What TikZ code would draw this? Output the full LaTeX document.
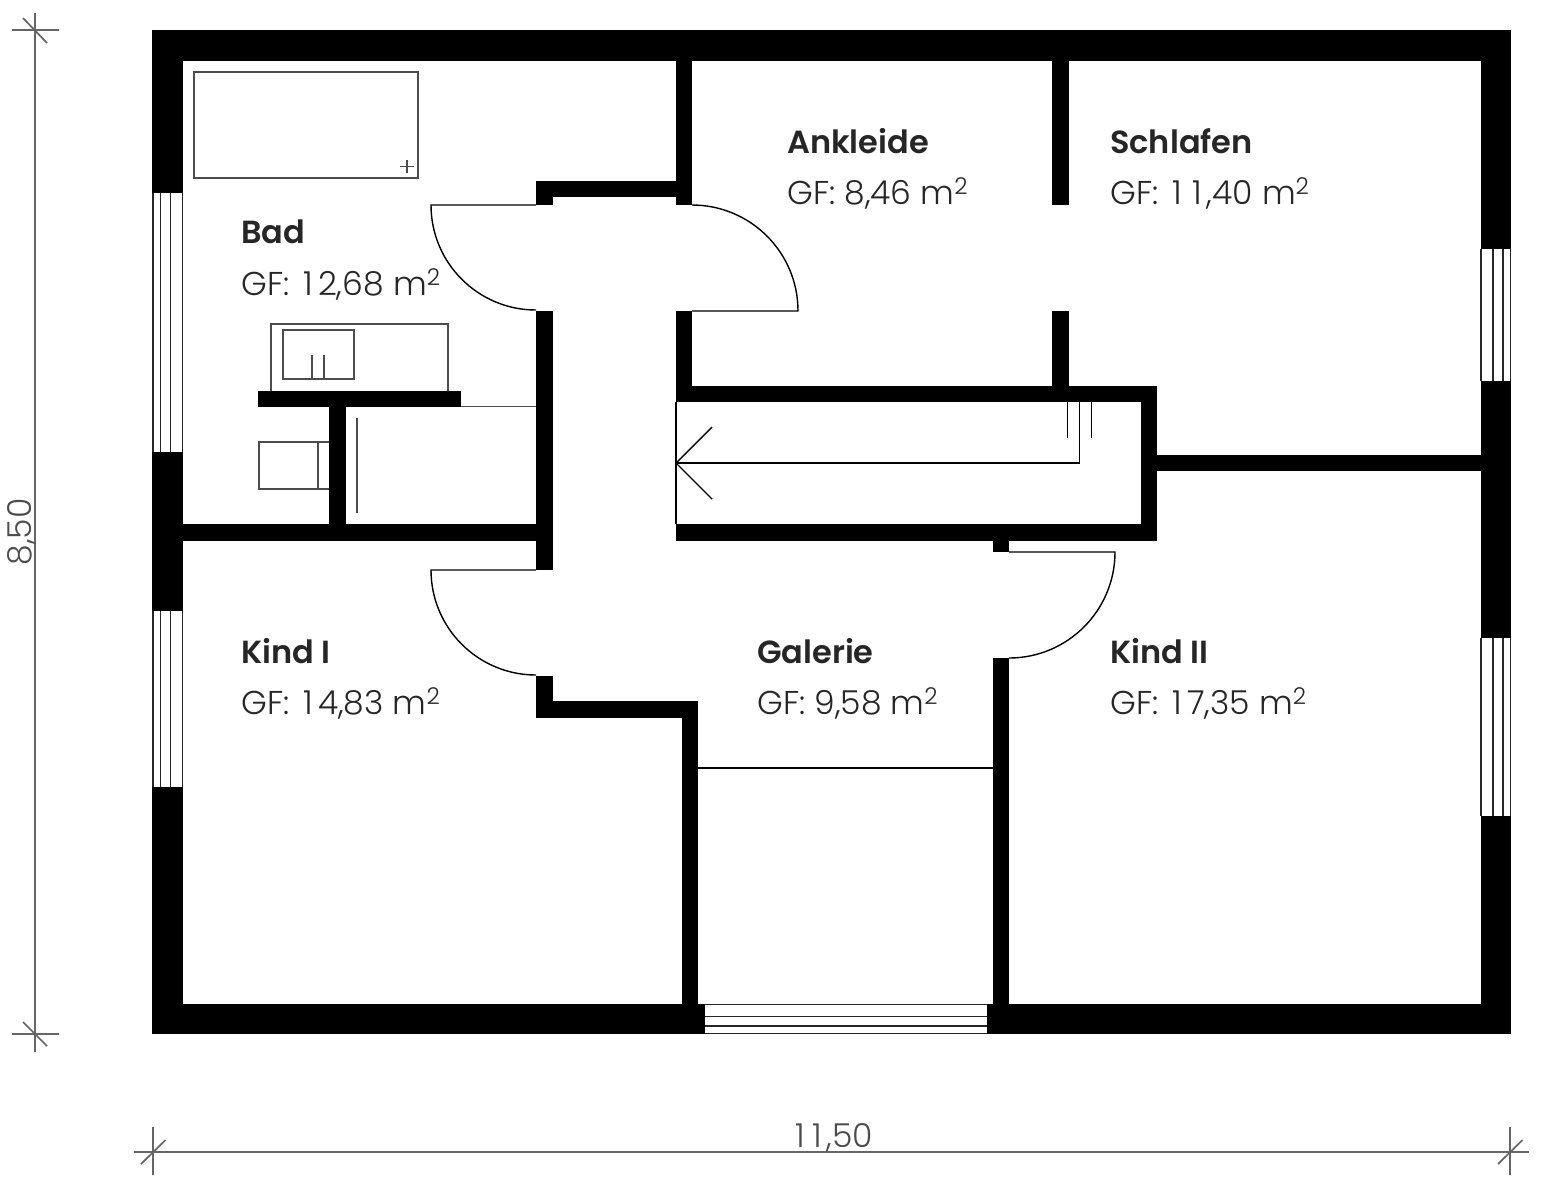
\documentclass[tikz,border=0pt]{standalone}
\usepackage{fontspec}
\setmainfont{Poppins}[UprightFont=* Light,BoldFont=* SemiBold]
\newcommand{\wideone}{\kern5pt 1\kern5pt}
\newcommand{\dimone}{\kern4pt 1\kern4pt}
\tikzset{
  x=1pt,y=1pt,
  wall/.style={fill=black},
  pane/.style={fill=white,draw=none},
  paneline/.style={draw=black!85,line width=1.5pt},
  doorline/.style={draw=black,line width=1.4pt},
  fixture/.style={draw=black!70,line width=1.8pt},
  dimline/.style={draw=black!60,line width=1.7pt},
  roomname/.style={anchor=base west,inner sep=0pt,text=black!85,font=\fontsize{32}{32}\selectfont\bfseries},
  roomarea/.style={anchor=base west,inner sep=0pt,text=black!85,font=\fontsize{33}{33}\selectfont},
  dimtext/.style={inner sep=0pt,text=black!70,font=\fontsize{33}{33}\selectfont}
}
\begin{document}
\begin{tikzpicture}
\useasboundingbox (0,0) rectangle (1541,-1187);
\fill[white] (0,0) rectangle (1541,-1187);
% outer walls
\fill[wall] (152,-30) rectangle (1511,-61);
\fill[wall] (152,-1004) rectangle (1511,-1034);
\fill[wall] (152,-30) rectangle (183,-1034);
\fill[wall] (1481,-30) rectangle (1511,-1034);
% inner walls
\fill[wall] (676,-61) rectangle (692,-205);
\fill[wall] (676,-311) rectangle (692,-402);
\fill[wall] (536,-181) rectangle (692,-197);
\fill[wall] (536,-181) rectangle (553,-205);
\fill[wall] (676,-197) rectangle (692,-205);
\fill[wall] (536,-311) rectangle (553,-570);
\fill[wall] (536,-676) rectangle (553,-718);
\fill[wall] (536,-701) rectangle (698,-718);
\fill[wall] (682,-701) rectangle (698,-1004);
\fill[wall] (993,-658) rectangle (1009,-1004);
\fill[wall] (993,-524) rectangle (1009,-552);
\fill[wall] (183,-524) rectangle (553,-541);
\fill[wall] (258,-391) rectangle (461,-407);
\fill[wall] (329,-391) rectangle (346,-524);
\fill[wall] (676,-386) rectangle (1157,-402);
\fill[wall] (1141,-386) rectangle (1157,-541);
\fill[wall] (676,-524) rectangle (1157,-541);
\fill[wall] (1052,-61) rectangle (1069,-205);
\fill[wall] (1052,-311) rectangle (1069,-386);
\fill[wall] (1157,-455) rectangle (1481,-471);
% left windows
\foreach \ya/\yb in {193/452,611/787}{
  \fill[pane] (152,-\ya) rectangle (183,-\yb);
  \foreach \xx in {153,160.7,170.3,182.3}
    \draw[paneline] (\xx,-\ya) -- (\xx,-\yb);
}
% right windows
\foreach \ya/\yb in {249/381,638/816}{
  \fill[pane] (1481,-\ya) rectangle (1511,-\yb);
  \foreach \xx in {1481,1493,1503,1510.3}
    \draw[paneline] (\xx,-\ya) -- (\xx,-\yb);
}
% bottom window
\fill[pane] (705,-1004) rectangle (987,-1034);
\foreach \yy in {1004.5,1016.7,1026,1033.5}
  \draw[paneline] (705,-\yy) -- (987,-\yy);
% doors
\draw[doorline] (536,-205) -- (431,-205) arc[start angle=180,end angle=270,radius=105];
\draw[doorline] (692,-205) arc[start angle=90,end angle=0,radius=106] -- (692,-311);
\draw[doorline] (536,-570) -- (431,-570) arc[start angle=180,end angle=270,radius=105];
\draw[doorline] (1009,-552) -- (1115,-552) arc[start angle=0,end angle=-90,radius=106];
% gallery edge
\draw[doorline] (698,-768) -- (993,-768);
% stair
\draw[doorline] (676,-402) -- (676,-524);
\draw[doorline] (1079.5,-402) -- (1079.5,-463) -- (676,-463);
\draw[doorline] (712,-427) -- (676,-463) -- (712,-499);
\draw[doorline] (1067.7,-402) -- (1067.7,-438);
\draw[doorline] (1091.7,-402) -- (1091.7,-438);
% bathroom fixtures
\draw[fixture] (194,-72) rectangle (418,-178);
\draw[fixture] (400,-166.5) -- (414,-166.5) (407,-160) -- (407,-173);
\draw[fixture] (271,-391) |- (448,-324) -- (448,-391);
\draw[fixture] (282.7,-329.7) rectangle (353.7,-379.3);
\draw[fixture] (312.3,-355) -- (312.3,-379.3) (324,-355) -- (324,-379.3);
\draw[fixture] (329,-441.7) -| (259,-489.3) -- (329,-489.3);
\draw[fixture] (318.3,-441.7) -- (318.3,-489.3);
\draw[fixture] (461,-406.5) -- (536,-406.5);
\draw[fixture] (357,-417.7) -- (357,-513);
% dimensions
\draw[dimline] (35,-13) -- (35,-1052);
\draw[dimline] (12,-30) -- (59,-30) (23,-18) -- (47,-43);
\draw[dimline] (12,-1034) -- (59,-1034) (23,-1022) -- (47,-1046);
\draw[dimline] (134,-1152) -- (1529,-1152);
\draw[dimline] (153,-1127) -- (153,-1175) (141,-1164) -- (165.5,-1140);
\draw[dimline] (1510,-1127) -- (1510,-1175) (1498,-1164) -- (1522.5,-1140);
% labels
\node[roomname] (bad) at (241,-243) {Bad};
\node[roomarea] (badgf) at (241,-295) {GF: \wideone 2,68 m\textsuperscript{2}};
\node[roomname] (ank) at (787,-153) {Ankleide};
\node[roomarea] (ankgf) at (787,-204) {GF: 8,46 m\textsuperscript{2}};
\node[roomname] (sch) at (1110,-153) {Schlafen};
\node[roomarea] (schgf) at (1110,-204) {GF: \wideone\wideone ,40 m\textsuperscript{2}};
\node[roomname] (k1) at (241,-663) {Kind I};
\node[roomarea] (k1gf) at (241,-714) {GF: \wideone 4,83 m\textsuperscript{2}};
\node[roomname] (gal) at (757,-663) {Galerie};
\node[roomarea] (galgf) at (757,-714) {GF: 9,58 m\textsuperscript{2}};
\node[roomname] (k2) at (1110,-663) {Kind II};
\node[roomarea] (k2gf) at (1110,-714) {GF: \wideone 7,35 m\textsuperscript{2}};
\node[dimtext,rotate=90] (dimv) at (21.5,-532) {8,50};
\node[dimtext] (dimh) at (832,-1138) {\dimone\dimone ,50};
\end{tikzpicture}
\end{document}
